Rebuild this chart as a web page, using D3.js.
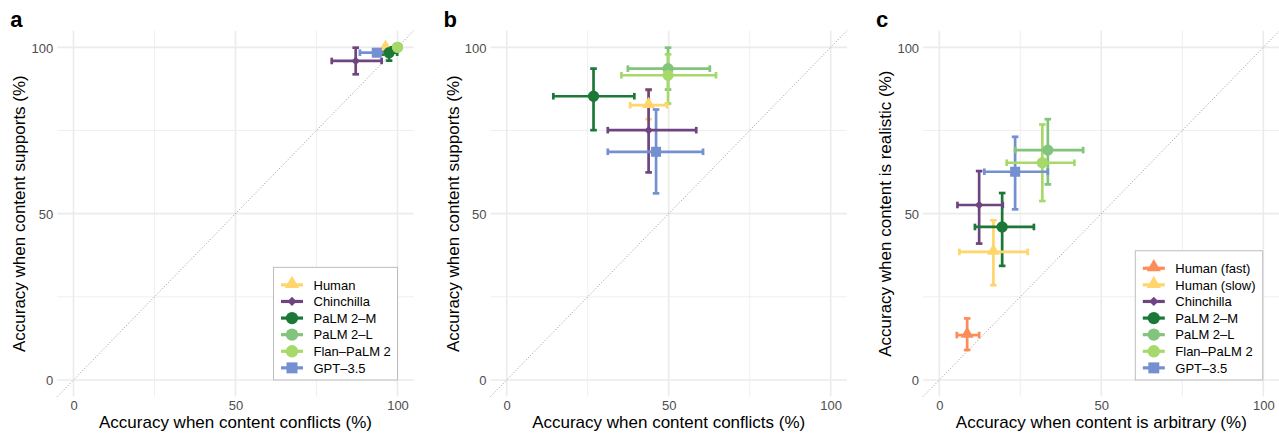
<!DOCTYPE html>
<html>
<head>
<meta charset="utf-8">
<script src="https://cdn.jsdelivr.net/npm/d3@7"></script>
<style>
  html, body { margin: 0; padding: 0; background: #fff; }
  svg { display: block; font-family: "Liberation Sans", Arial, sans-serif; }
</style>
</head>
<body>
<svg id="chart" width="1279" height="437"></svg>
<script>
// ---- Series definitions ----
const modelNames = ["Human", "Chinchilla", "PaLM 2\u2013M", "PaLM 2\u2013L", "Flan\u2013PaLM 2", "GPT\u20133.5"];
const modelNamesC = ["Human (fast)", "Human (slow)", "Chinchilla", "PaLM 2\u2013M", "PaLM 2\u2013L", "Flan\u2013PaLM 2", "GPT\u20133.5"];

const colorByName = {
  "Human": "#ffd56c", "Human (fast)": "#fc8d59", "Human (slow)": "#ffd56c",
  "Chinchilla": "#6e4581", "PaLM 2\u2013M": "#1b7837", "PaLM 2\u2013L": "#82c47c",
  "Flan\u2013PaLM 2": "#a6d96a", "GPT\u20133.5": "#7490d0"
};
const shapeByName = {
  "Human": "triangle", "Human (fast)": "triangle", "Human (slow)": "triangle",
  "Chinchilla": "diamond", "PaLM 2\u2013M": "circle", "PaLM 2\u2013L": "circle",
  "Flan\u2013PaLM 2": "circle", "GPT\u20133.5": "square"
};

// Panel a: conflicts (x) vs supports (y)
const aX    = [96.3, 87.1, 97.4, 100, 100, 93.6];
const aXlo  = [95.6, 79.7, 95.4, 100, 100, 88.4];
const aXhi  = [97.0, 95.1, 99.9, 100, 100, 98.2];
const aY    = [99.8, 95.9, 98.4, 100, 100, 98.4];
const aYlo  = [99.2, 91.9, 96.0, 100, 100, 97.4];
const aYhi  = [100, 99.9, 100, 100, 100, 99.4];

// Panel b: conflicts (x) vs supports (y)
const bX    = [43.8, 43.8, 26.8, 49.8, 49.8, 46.1];
const bXlo  = [38.1, 31.2, 14.4, 37.4, 35.4, 31.2];
const bXhi  = [49.5, 58.5, 39.4, 62.7, 64.6, 60.6];
const bY    = [82.6, 75.1, 85.3, 93.6, 91.6, 68.6];
const bYlo  = [78.4, 62.4, 75.1, 87.3, 83.1, 56.1];
const bYhi  = [86.9, 87.3, 93.6, 99.9, 97.9, 81.3];

// Panel c: arbitrary (x) vs realistic (y)
const cX    = [8.6, 16.7, 12.3, 19.4, 33.5, 31.8, 23.4];
const cXlo  = [5.4, 6.2, 5.6, 11.0, 23.4, 20.8, 13.9];
const cXhi  = [12.3, 27.3, 19.6, 29.2, 44.4, 41.7, 33.5];
const cY    = [13.5, 38.5, 52.6, 46.0, 69.1, 65.3, 62.6];
const cYlo  = [9.0, 28.5, 41.0, 34.3, 58.8, 53.8, 51.3];
const cYhi  = [18.5, 48.0, 62.8, 56.2, 78.4, 76.8, 73.1];

const majorTicks = [0, 50, 100];
const minorTicks = [25, 75];

const panels = [
  { tag: "a", left: 57.3, names: modelNames, x: aX, xlo: aXlo, xhi: aXhi, y: aY, ylo: aYlo, yhi: aYhi,
    xTitle: "Accuracy when content conflicts (%)", yTitle: "Accuracy when content supports (%)", legend: true },
  { tag: "b", left: 490.5, names: modelNames, x: bX, xlo: bXlo, xhi: bXhi, y: bY, ylo: bYlo, yhi: bYhi,
    xTitle: "Accuracy when content conflicts (%)", yTitle: "Accuracy when content supports (%)", legend: false },
  { tag: "c", left: 923.1, names: modelNamesC, x: cX, xlo: cXlo, xhi: cXhi, y: cY, ylo: cYlo, yhi: cYhi,
    xTitle: "Accuracy when content is arbitrary (%)", yTitle: "Accuracy when content is realistic (%)", legend: true }
];

const svg = d3.select("#chart");
const plotW = 356.4, plotTop = 30.7, plotBottom = 396.6;

function symbolPath(shape, k) {
  if (shape === "triangle") return d3.symbol().type(d3.symbolTriangle).size(72 * k)();
  if (shape === "square") return d3.symbol().type(d3.symbolSquare).size(100 * k)();
  if (shape === "diamond") return d3.symbol().type(d3.symbolSquare).size(36 * k)();
  return d3.symbol().type(d3.symbolCircle).size(100 * k)();
}
function drawPoint(g, name, cx, cy, k = 1) {
  const shape = shapeByName[name];
  g.append("path")
    .attr("d", symbolPath(shape, k))
    .attr("transform", `translate(${cx},${cy})` + (shape === "diamond" ? " rotate(45)" : "") + (shape === "triangle" ? " translate(0,-1)" : ""))
    .attr("fill", colorByName[name]);
}

panels.forEach(p => {
  const x = d3.scaleLinear().domain([-5, 105]).range([p.left, p.left + plotW]);
  const y = d3.scaleLinear().domain([-5, 105]).range([plotBottom, plotTop]);
  const g = svg.append("g");

  // grid
  const grid = g.append("g");
  minorTicks.forEach(t => {
    grid.append("line").attr("x1", x(t)).attr("x2", x(t)).attr("y1", plotTop).attr("y2", plotBottom)
      .attr("stroke", "#ebebeb").attr("stroke-width", 0.8);
    grid.append("line").attr("y1", y(t)).attr("y2", y(t)).attr("x1", x.range()[0]).attr("x2", x.range()[1])
      .attr("stroke", "#ebebeb").attr("stroke-width", 0.8);
  });
  majorTicks.forEach(t => {
    grid.append("line").attr("x1", x(t)).attr("x2", x(t)).attr("y1", plotTop).attr("y2", plotBottom)
      .attr("stroke", "#ebebeb").attr("stroke-width", 1.6);
    grid.append("line").attr("y1", y(t)).attr("y2", y(t)).attr("x1", x.range()[0]).attr("x2", x.range()[1])
      .attr("stroke", "#ebebeb").attr("stroke-width", 1.6);
  });

  // axes (tick labels only)
  const xAxis = d3.axisBottom(x).tickValues(majorTicks).tickSize(0).tickPadding(0);
  const xa = g.append("g").attr("transform", `translate(0,${plotBottom + 4})`).call(xAxis);
  const yAxis = d3.axisLeft(y).tickValues(majorTicks).tickSize(0).tickPadding(0);
  const ya = g.append("g").attr("transform", `translate(${p.left - 4},0)`).call(yAxis);
  [xa, ya].forEach(a => {
    a.select(".domain").remove();
    a.selectAll("text").attr("fill", "#4d4d4d").attr("font-size", 13)
      .attr("font-family", "Liberation Sans, Arial, sans-serif");
  });
  ya.selectAll("text").attr("dy", "0.36em");

  // identity line
  g.append("line").attr("x1", x(-5)).attr("y1", y(-5)).attr("x2", x(105)).attr("y2", y(105))
    .attr("stroke", "#8a8a8a").attr("stroke-width", 0.9).attr("stroke-dasharray", "1 2");

  const idx = d3.range(p.names.length);
  const cap = 3.3, sw = 2.7;
  // vertical error bars
  idx.forEach(i => {
    const col = colorByName[p.names[i]];
    const vg = g.append("g").attr("stroke", col).attr("stroke-width", sw);
    vg.append("line").attr("x1", x(p.x[i])).attr("x2", x(p.x[i])).attr("y1", y(p.ylo[i])).attr("y2", y(p.yhi[i]));
    [p.ylo[i], p.yhi[i]].forEach(v => vg.append("line")
      .attr("x1", x(p.x[i]) - cap).attr("x2", x(p.x[i]) + cap).attr("y1", y(v)).attr("y2", y(v)));
  });
  // horizontal error bars
  idx.forEach(i => {
    const col = colorByName[p.names[i]];
    const hg = g.append("g").attr("stroke", col).attr("stroke-width", sw);
    hg.append("line").attr("y1", y(p.y[i])).attr("y2", y(p.y[i])).attr("x1", x(p.xlo[i])).attr("x2", x(p.xhi[i]));
    [p.xlo[i], p.xhi[i]].forEach(v => hg.append("line")
      .attr("y1", y(p.y[i]) - cap).attr("y2", y(p.y[i]) + cap).attr("x1", x(v)).attr("x2", x(v)));
  });
  // points
  idx.forEach(i => drawPoint(g, p.names[i], x(p.x[i]), y(p.y[i])));

  // titles
  g.append("text").attr("x", (x.range()[0] + x.range()[1]) / 2).attr("y", 428)
    .attr("text-anchor", "middle").attr("font-size", 17).attr("fill", "#000").text(p.xTitle);
  g.append("text").attr("transform", `translate(${p.left - 32},${(plotTop + plotBottom) / 2}) rotate(-90)`)
    .attr("text-anchor", "middle").attr("font-size", 17).attr("fill", "#000").text(p.yTitle);
  g.append("text").attr("x", p.left - 47).attr("y", 27).attr("font-size", 22).attr("font-weight", "bold")
    .attr("fill", "#000").text(p.tag);

  // legend
  if (p.legend) {
    const n = p.names.length, rowH = 16.6;
    const boxRight = x(100) + (p.tag === "c" ? -0.6 : 0);
    const boxW = p.tag === "c" ? 127.4 : 124;
    const boxBottom = y(0);
    const boxH = n * rowH + 13;
    const lg = g.append("g").attr("transform", `translate(${boxRight - boxW},${boxBottom - boxH})`);
    lg.append("rect").attr("width", boxW).attr("height", boxH).attr("fill", "#fff")
      .attr("stroke", "#bdbdbd").attr("stroke-width", 1);
    p.names.forEach((nm, k) => {
      const cy = 17.5 + k * rowH;
      lg.append("line").attr("x1", 7.5).attr("x2", 29.5).attr("y1", cy).attr("y2", cy)
        .attr("stroke", colorByName[nm]).attr("stroke-width", 3.2);
      drawPoint(lg, nm, 18.5, cy, 1.2);
      lg.append("text").attr("x", 40).attr("y", cy).attr("dy", "0.36em").attr("font-size", 13)
        .attr("fill", "#000").text(nm);
    });
  }
});
</script>
</body>
</html>
